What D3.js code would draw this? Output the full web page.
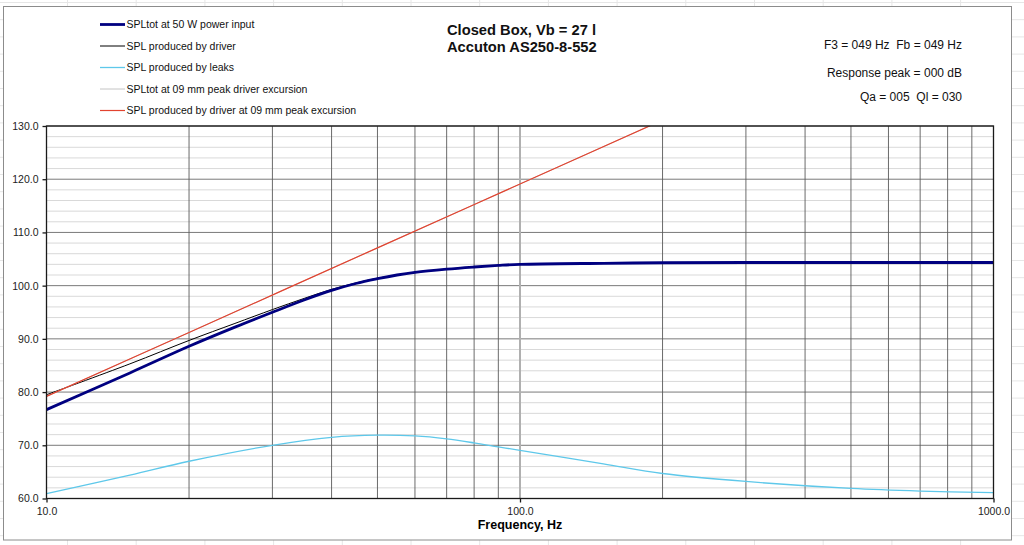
<!DOCTYPE html>
<html>
<head>
<meta charset="utf-8">
<script src="https://cdn.jsdelivr.net/npm/d3@7/dist/d3.min.js"></script>
<style>
  body { margin: 0; background: #fff; }
  svg { display: block; font-family: "Liberation Sans", Arial, sans-serif; }
</style>
</head>
<body>
<div id="chart"></div>
<script>
// values (Hz, dB)
const freqTot = [10, 15, 20, 25, 30, 35, 40, 45, 50, 55, 60, 70, 80, 90, 100, 150, 200, 300, 500, 1000]
const splTot50W = [76.7, 83.6, 88.6, 92.2, 95.0, 97.3, 99.1, 100.4, 101.3, 102.0, 102.5, 103.1, 103.5, 103.8, 104.0, 104.2, 104.3, 104.35, 104.35, 104.35]
const splDriver = [79.5, 85.3, 89.7, 92.9, 95.5, 97.6, 99.3, 100.5, 101.4, 102.0, 102.5, 103.1, 103.5, 103.8, 104.0, 104.2, 104.3, 104.35, 104.35, 104.35]

const freqLeak = [10, 15, 20, 30, 40, 50, 60, 70, 80, 90, 100, 150, 200, 300, 500, 700, 1000]
const splLeak = [60.9, 64.4, 67.0, 70.0, 71.5, 71.9, 71.75, 71.2, 70.45, 69.7, 69.05, 66.5, 64.7, 63.2, 61.9, 61.4, 61.1]

const freqExc = [10, 20, 50, 100, 200]
const splTot9mm = [79.2, 91.2, 107.1, 119.1, 131.1]
const splDriver9mm = [79.2, 91.2, 107.1, 119.1, 131.1]

const yTicks = [60, 70, 80, 90, 100, 110, 120, 130]
const xTicks = [10, 100, 1000]
const xGridFreqs = [20, 30, 40, 50, 60, 70, 80, 90, 200, 300, 400, 500, 600, 700, 800, 900]

const legendItems = [
    { label: 'SPLtot at 50 W power input', color: '#000080', width: 2.8 },
    { label: 'SPL produced by driver', color: '#000000', width: 1 },
    { label: 'SPL produced by leaks', color: '#5ec8ea', width: 1.3 },
    { label: 'SPLtot at 09 mm peak driver excursion', color: '#c4c4c4', width: 1 },
    { label: 'SPL produced by driver at 09 mm peak excursion', color: '#e2432f', width: 1.2 },
]
const infoLines = ['F3 = 049 Hz  Fb = 049 Hz', 'Response peak = 000 dB', 'Qa = 005  Ql = 030']

const W = 1024, H = 545
const plot = { left: 46.5, right: 993.5, top: 126, bottom: 498.5 }

const svg = d3.select('#chart').append('svg').attr('width', W).attr('height', H)

// faint spreadsheet cells behind the chart
const bg = svg.append('g').attr('stroke', '#e6e6e6').attr('stroke-width', 1)
for (let x = 67.5; x < W; x += 68.7) bg.append('line').attr('x1', x).attr('x2', x).attr('y1', 0).attr('y2', H)
for (let y = 2.5; y < H; y += 17.2) bg.append('line').attr('x1', 0).attr('x2', W).attr('y1', y).attr('y2', y)

// chart area
svg.append('rect').attr('x', 3.5).attr('y', 6.5).attr('width', 1008).attr('height', 533.5)
    .attr('fill', '#fff').attr('stroke', '#8c8c8c').attr('stroke-width', 1)

const x = d3.scaleLog().domain([10, 1000]).range([plot.left, plot.right])
const y = d3.scaleLinear().domain([60, 130]).range([plot.bottom, plot.top])

// grid
const grid = svg.append('g')
grid.selectAll('line.minor').data(d3.range(62, 130, 2).filter(v => v % 10 !== 0)).enter().append('line')
    .attr('x1', plot.left).attr('x2', plot.right).attr('y1', d => y(d)).attr('y2', d => y(d))
    .attr('stroke', '#d9d9d9').attr('stroke-width', 1)
grid.selectAll('line.major').data(yTicks).enter().append('line')
    .attr('x1', plot.left).attr('x2', plot.right).attr('y1', d => y(d)).attr('y2', d => y(d))
    .attr('stroke', '#7a7a7a').attr('stroke-width', 1)
grid.selectAll('line.vgrid').data(xGridFreqs).enter().append('line')
    .attr('x1', d => x(d)).attr('x2', d => x(d)).attr('y1', plot.top).attr('y2', plot.bottom)
    .attr('stroke', '#5a5a5a').attr('stroke-width', 0.9)
grid.append('line').attr('x1', x(100)).attr('x2', x(100)).attr('y1', plot.top).attr('y2', plot.bottom)
    .attr('stroke', '#b0b0b0').attr('stroke-width', 2)

// series
svg.append('clipPath').attr('id', 'plotclip').append('rect')
    .attr('x', plot.left).attr('y', plot.top).attr('width', plot.right - plot.left).attr('height', plot.bottom - plot.top)

const lineGen = d3.line().x(d => x(d[0])).y(d => y(d[1])).curve(d3.curveCatmullRom.alpha(0.5))
const series = [
    { f: freqLeak, v: splLeak, item: legendItems[2] },
    { f: freqTot, v: splDriver, item: legendItems[1] },
    { f: freqTot, v: splTot50W, item: legendItems[0] },
    { f: freqExc, v: splTot9mm, item: legendItems[3] },
    { f: freqExc, v: splDriver9mm, item: legendItems[4] },
]
const lines = svg.append('g').attr('clip-path', 'url(#plotclip)')
series.forEach(s => {
    lines.append('path').datum(s.f.map((f, i) => [f, s.v[i]]))
        .attr('d', lineGen).attr('fill', 'none')
        .attr('stroke', s.item.color).attr('stroke-width', s.item.width)
})

// plot frame
svg.append('rect').attr('x', plot.left).attr('y', plot.top)
    .attr('width', plot.right - plot.left).attr('height', plot.bottom - plot.top)
    .attr('fill', 'none').attr('stroke', '#1a1a1a').attr('stroke-width', 1.3)

// axes
const yAxis = svg.append('g').attr('transform', 'translate(' + plot.left + ',0)')
    .call(d3.axisLeft(y).tickValues(yTicks).tickFormat(d3.format('.1f')).tickSize(4).tickPadding(4))
const xAxis = svg.append('g').attr('transform', 'translate(0,' + plot.bottom + ')')
    .call(d3.axisBottom(x).tickValues(xTicks).tickFormat(d3.format('.1f')).tickSize(4).tickPadding(5))
;[yAxis, xAxis].forEach(a => {
    a.select('.domain').remove()
    a.selectAll('.tick line').attr('stroke', '#1a1a1a').attr('stroke-width', 1.3)
    a.selectAll('.tick text').attr('font-size', 10.5).attr('fill', '#222')
        .attr('font-family', '"Liberation Sans", Arial, sans-serif')
})

svg.append('text').attr('x', (x(10) + x(1000)) / 2).attr('y', 529)
    .attr('text-anchor', 'middle').attr('font-size', 12.5).attr('font-weight', 'bold')
    .text('Frequency, Hz')

// title
const title = svg.append('text').attr('font-size', 14.7).attr('font-weight', 'bold').attr('fill', '#111')
title.append('tspan').attr('x', 447).attr('y', 35).text('Closed Box, Vb = 27 l')
title.append('tspan').attr('x', 447).attr('y', 51.5).text('Accuton AS250-8-552')

// info block on the right
svg.selectAll('text.info').data(infoLines).enter().append('text')
    .attr('class', 'info').attr('x', 962).attr('y', (d, i) => [49, 77, 101][i])
    .attr('text-anchor', 'end').attr('font-size', 12).attr('fill', '#111')
    .style('white-space', 'pre')
    .text(d => d)

// legend
const lg = svg.append('g')
legendItems.forEach((it, i) => {
    const ly = 24.5 + i * 21.5
    lg.append('line').attr('x1', 100).attr('x2', 125).attr('y1', ly).attr('y2', ly)
        .attr('stroke', it.color).attr('stroke-width', it.width)
    lg.append('text').attr('x', 126.5).attr('y', ly + 3.8).attr('font-size', 10.5).attr('fill', '#111')
        .text(it.label)
})
</script>
</body>
</html>
